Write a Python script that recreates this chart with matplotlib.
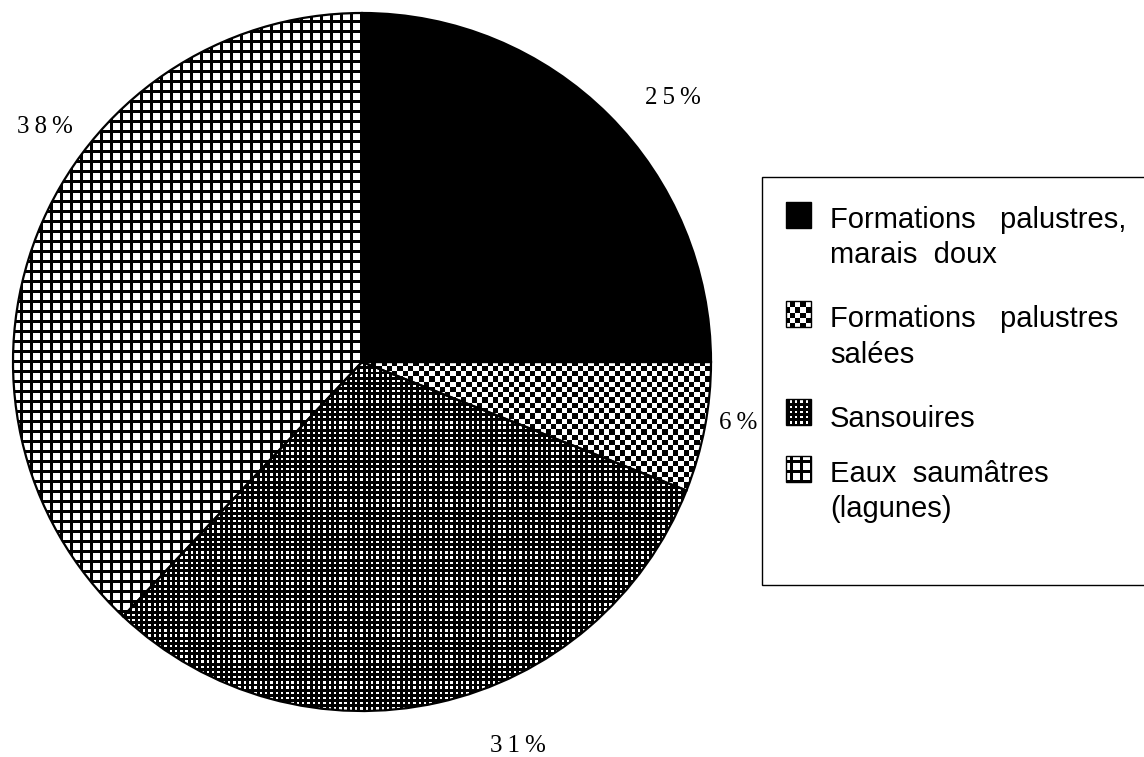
import numpy as np
import matplotlib
matplotlib.use("Agg")
import matplotlib.pyplot as plt
from matplotlib.patches import Rectangle

# Habitat shares (%)
categories = ["Formations palustres,\nmarais doux",
              "Formations palustres\nsalées",
              "Sansouires",
              "Eaux saumâtres\n(lagunes)"]
shares = [25, 6, 31, 38]
pct_labels = ["25%", "6%", "31%", "38%"]

W, H = 1144, 757
fig = plt.figure(figsize=(W / 100, H / 100), dpi=100)
ax = fig.add_axes([0, 0, 1, 1])

cx, cy, R = 362, H - 362, 349

wedges, _ = ax.pie(shares, startangle=90, counterclock=False,
                   center=(cx, cy), radius=R, colors=["white"] * 4,
                   wedgeprops=dict(edgecolor="black", linewidth=1.6))
ax.set_xlim(0, W)
ax.set_ylim(0, H)
ax.set_aspect("auto")
ax.axis("off")

# pixel-grid fill patterns (1 = white, 0 = black)
jj, ii = np.meshgrid(np.arange(W) + 0.5, np.arange(H) + 0.5)
solid = np.zeros((H, W))
checker = ((np.floor(jj / 5.3) + np.floor(ii / 5.3)) % 2).astype(float)
dots = (((jj % 5.3) < 2.4) & ((ii % 5.2) < 2.4)).astype(float)
grid = (((jj % 10) >= 3) & ((ii % 10) >= 3)).astype(float)
patterns = [solid, checker, dots, grid]


def fill(pattern, clip, z):
    im = ax.imshow(pattern, cmap="gray", vmin=0, vmax=1, extent=(0, W, 0, H),
                   origin="upper", interpolation="nearest", zorder=z)
    im.set_clip_path(clip)


for w, p in zip(wedges, patterns):
    fill(p, w, 1.5)
    w.set_zorder(2)
    w.set_facecolor("none")

# percentage labels, loosely spaced serif digits
pct_pos = [(673, 98), (738, 423), (518, 746), (45, 127)]
for (x, y), t in zip(pct_pos, pct_labels):
    ax.text(x, H - y, "\u2009".join(t), fontsize=18, family="Liberation Serif",
            ha="center", va="center", zorder=3)

# legend box
ax.add_patch(Rectangle((762, H - 585), 420, 408, facecolor="white",
                       edgecolor="black", linewidth=1.0, zorder=2.5,
                       clip_on=False))

icon_base = [228, 327, 425, 482]
text_base = [[228, 263], [327, 363], [427], [482, 517]]
for k, (cat, p) in enumerate(zip(categories, patterns)):
    yb = H - icon_base[k]
    rect = Rectangle((786, yb), 25, 26, facecolor="none",
                     edgecolor="black", linewidth=1.0, zorder=4)
    ax.add_patch(rect)
    fill(p, rect, 3.5)
    for line, ty in zip(cat.split("\n"), text_base[k]):
        # the long first lines are set with wider word gaps
        gap = "   " if line.startswith("Formations") else "  "
        ax.text(830, H - ty, line.replace(" ", gap), fontsize=21,
                family="Liberation Sans", ha="left", va="baseline", zorder=4)

fig.savefig("out.png", dpi=100)
